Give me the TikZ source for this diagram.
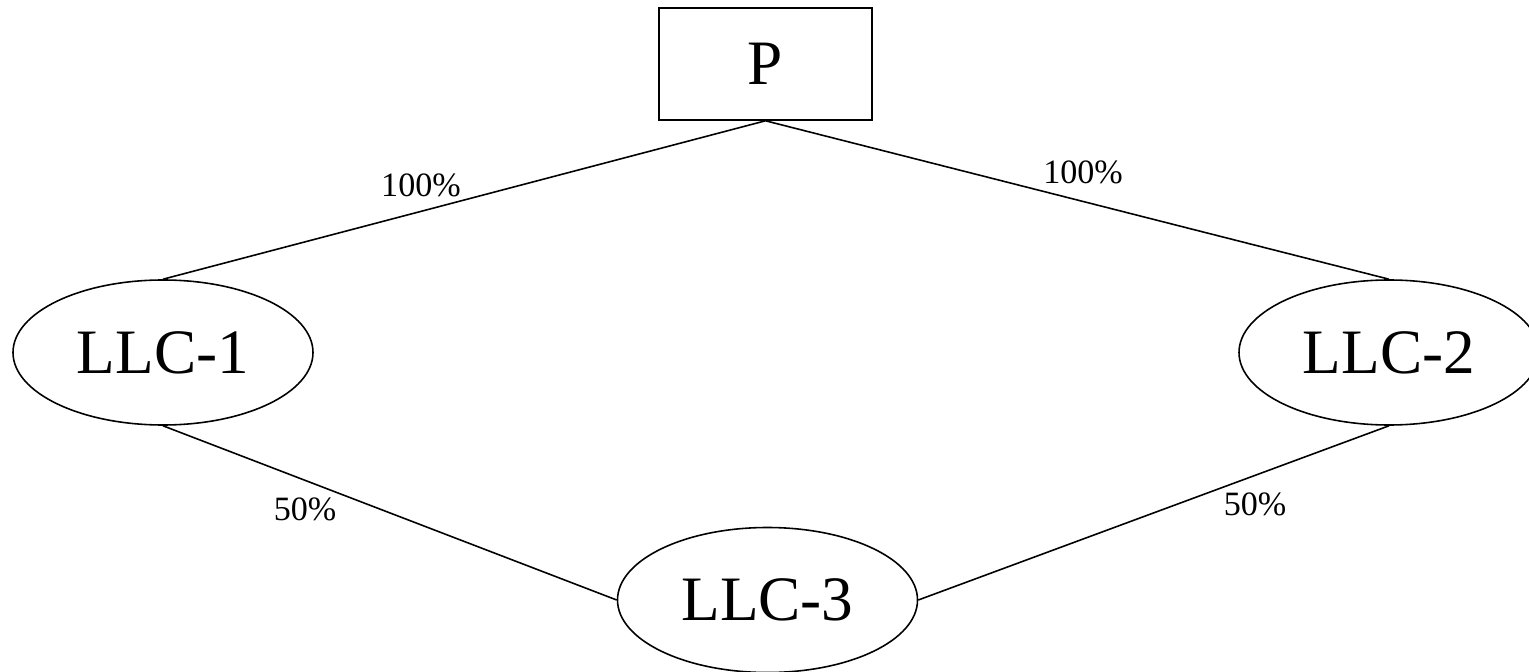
\documentclass[tikz,border=0pt]{standalone}
\usepackage{fontspec}
\setmainfont{Liberation Serif}
\usetikzlibrary{shapes.geometric}
\begin{document}
\begin{tikzpicture}[line width=0.9pt,
  llc/.style={draw, ellipse, minimum width=6cm, minimum height=2.9cm, inner sep=0pt, font=\fontsize{36}{43}\selectfont},
  parent/.style={draw, rectangle, minimum width=4.26cm, minimum height=2.24cm, inner sep=0pt, font=\fontsize{36}{43}\selectfont},
  share/.style={inner sep=0pt, font=\fontsize{19.4}{23}\selectfont}]
\useasboundingbox (0,0) rectangle (30.58,13.42);
\node[parent] (p) at (15.31,12.14) {P};
\node[llc] (llc1) at (3.26,6.37) {LLC-1};
\node[llc] (llc2) at (27.78,6.37) {LLC-2};
\node[llc] (llc3) at (15.35,1.42) {LLC-3};
% ownership lines
\draw (p.south) -- (llc1.north);
\draw (p.south) -- (llc2.north);
\draw (llc1.south) -- (llc3.west);
\draw (llc2.south) -- (llc3.east);
\node[share] (s1) at (8.42,9.72) {100\%};
\node[share] (s2) at (21.66,9.97) {100\%};
\node[share] (s3) at (6.10,3.24) {50\%};
\node[share] (s4) at (25.10,3.33) {50\%};
\end{tikzpicture}
\end{document}
